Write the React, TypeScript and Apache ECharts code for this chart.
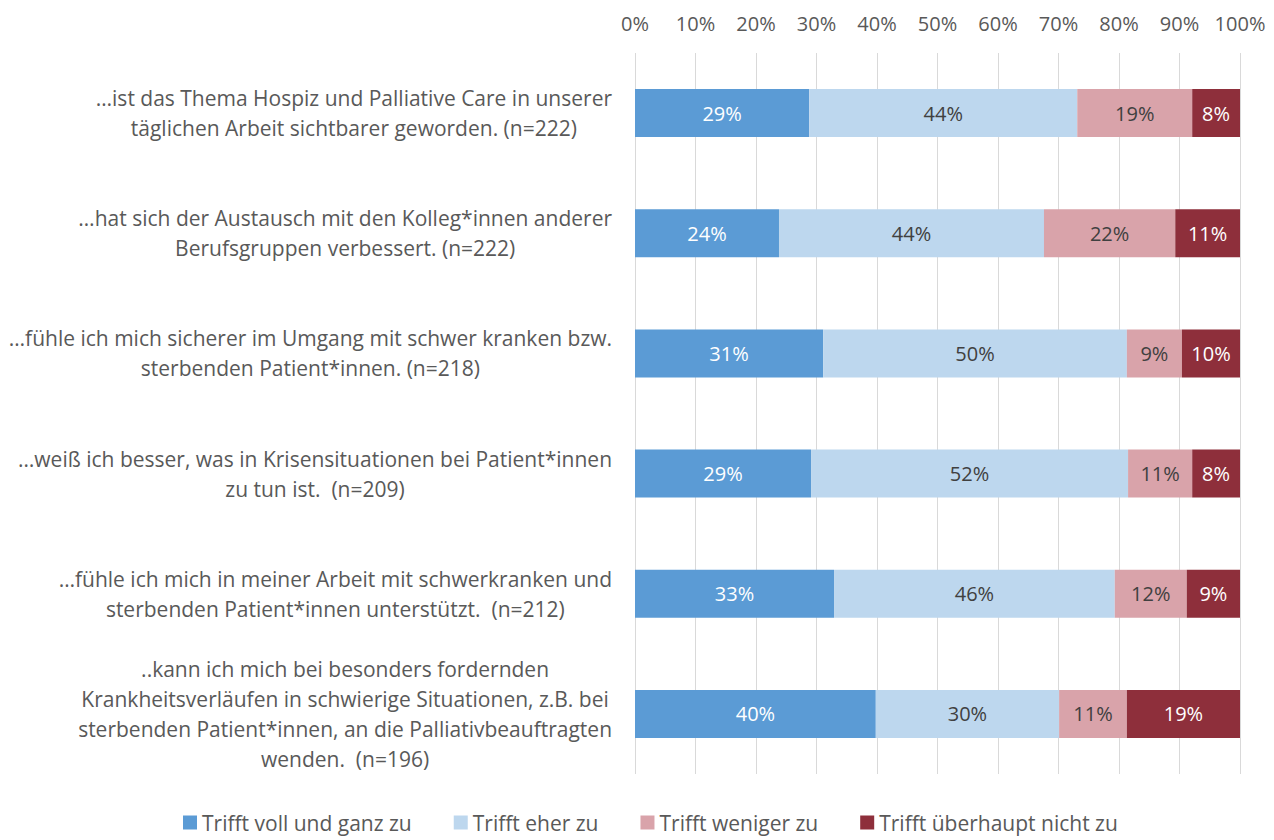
import React, { useEffect, useRef } from "react";
import * as echarts from "echarts";

const categories = [
  "…ist das Thema Hospiz und Palliative Care in unserer\ntäglichen Arbeit sichtbarer geworden. (n=222)",
  "…hat sich der Austausch mit den Kolleg*innen anderer\nBerufsgruppen verbessert. (n=222)",
  "…fühle ich mich sicherer im Umgang mit schwer kranken bzw.\nsterbenden Patient*innen. (n=218)",
  "…weiß ich besser, was in Krisensituationen bei Patient*innen\nzu tun ist.  (n=209)",
  "…fühle ich mich in meiner Arbeit mit schwerkranken und\nsterbenden Patient*innen unterstützt.  (n=212)",
  "..kann ich mich bei besonders fordernden\nKrankheitsverläufen in schwierige Situationen, z.B. bei\nsterbenden Patient*innen, an die Palliativbeauftragten\nwenden.  (n=196)",
];

const seriesNames = [
  "Trifft voll und ganz zu",
  "Trifft eher zu",
  "Trifft weniger zu",
  "Trifft überhaupt nicht zu",
];

const vollUndGanz = [28.8, 23.8, 31.1, 29.1, 32.9, 39.8];
const eher = [44.3, 43.8, 50.2, 52.4, 46.4, 30.3];
const weniger = [19.0, 21.7, 9.1, 10.6, 11.9, 11.2];
const ueberhauptNicht = [7.9, 10.7, 9.6, 7.9, 8.8, 18.7];

const xTicks = [0, 10, 20, 30, 40, 50, 60, 70, 80, 90, 100];

const colors = ["#5B9BD5", "#BDD7EE", "#D9A3AA", "#8E2F3B"];
const labelColors = ["#FFFFFF", "#404040", "#404040", "#FFFFFF"];

const FONT = "'Open Sans', sans-serif";
const FS = 21;

export default function App() {
  const ref = useRef<HTMLDivElement>(null);
  useEffect(() => {
    if (!ref.current) return;
    const chart = echarts.init(ref.current, null, { renderer: "svg" });
    const allValues = [vollUndGanz, eher, weniger, ueberhauptNicht];
    chart.setOption({
      animation: false,
      textStyle: { fontFamily: FONT },
      grid: { left: 635, right: 34, top: 53, bottom: 66, containLabel: false },
      legend: {
        top: 812,
        left: 183,
        padding: 0,
        itemWidth: 14,
        itemHeight: 14,
        itemGap: 42,
        icon: "rect",
        textStyle: { color: "#595959", fontSize: FS, fontFamily: FONT },
        data: seriesNames,
      },
      xAxis: {
        type: "value",
        position: "top",
        min: xTicks[0],
        max: xTicks[xTicks.length - 1],
        interval: 10,
        axisLine: { show: false },
        axisTick: { show: false },
        splitLine: { show: true, lineStyle: { color: "#D9D9D9", width: 1 } },
        axisLabel: {
          color: "#595959",
          fontSize: 20,
          fontFamily: FONT,
          margin: 20,
          formatter: (v: number) => `${v}%`,
        },
      },
      yAxis: {
        type: "category",
        inverse: true,
        data: categories,
        axisLine: { show: false },
        axisTick: { show: false },
        axisLabel: {
          margin: 23,
          align: "right",
          formatter: (v: string) =>
            v
              .split("\n")
              .map((l) => `{c|${l}}`)
              .join("\n"),
          rich: {
            c: {
              align: "center",
              color: "#595959",
              fontSize: FS,
              fontFamily: FONT,
              lineHeight: 30,
            },
          },
        },
      },
      series: seriesNames.map((name, i) => ({
        name,
        type: "bar",
        stack: "total",
        barWidth: "40%",
        data: allValues[i],
        itemStyle: { color: colors[i] },
        label: {
          show: true,
          position: "inside",
          color: labelColors[i],
          fontSize: 20,
          fontFamily: FONT,
          formatter: (p: any) => `${Math.round(p.value)}%`,
        },
      })),
    });
    return () => chart.dispose();
  }, []);
  return (
    <div
      ref={ref}
      style={{ position: "fixed", left: 0, top: 0, width: 1274, height: 840, background: "#fff" }}
    />
  );
}
